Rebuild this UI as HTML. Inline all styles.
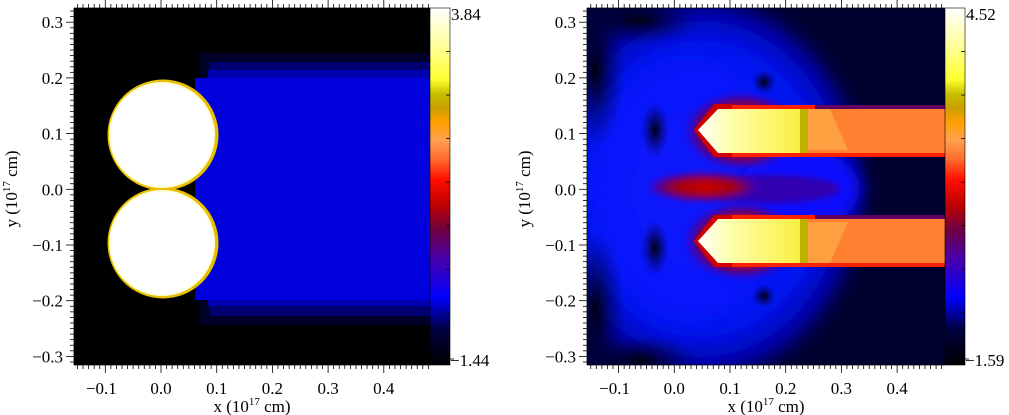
<!DOCTYPE html>
<html><head><meta charset="utf-8"><style>
html,body{margin:0;padding:0;background:#fff;}
svg{display:block;font-family:"Liberation Serif",serif;}
</style></head><body>
<svg id="s" width="1009" height="415" viewBox="0 0 1009 415" xmlns="http://www.w3.org/2000/svg">
<defs>
<linearGradient id="cb1" x1="0" y1="1" x2="0" y2="0">
<stop offset="0" stop-color="#000"/><stop offset="0.1" stop-color="#000040"/>
<stop offset="0.19" stop-color="#0000ff"/><stop offset="0.3" stop-color="#4a00a8"/>
<stop offset="0.38" stop-color="#700040"/><stop offset="0.45" stop-color="#c00000"/>
<stop offset="0.52" stop-color="#ff1000"/><stop offset="0.58" stop-color="#ff7030"/>
<stop offset="0.63" stop-color="#ffa050"/><stop offset="0.68" stop-color="#ffa000"/>
<stop offset="0.72" stop-color="#c8a000"/><stop offset="0.76" stop-color="#c8c000"/>
<stop offset="0.8" stop-color="#ffff30"/><stop offset="0.9" stop-color="#ffffa0"/>
<stop offset="1" stop-color="#fff"/>
</linearGradient>
<radialGradient id="cloud" cx="0.5" cy="0.5" r="0.5">
<stop offset="0" stop-color="#1020ff"/><stop offset="0.7" stop-color="#0014f0"/>
<stop offset="0.88" stop-color="#0000a0"/><stop offset="1" stop-color="#000020" stop-opacity="0"/>
</radialGradient>
<radialGradient id="streak" cx="0.5" cy="0.5" r="0.5">
<stop offset="0" stop-color="#d00000"/><stop offset="0.5" stop-color="#a00010"/>
<stop offset="0.8" stop-color="#5000a0"/><stop offset="1" stop-color="#3000d0" stop-opacity="0"/>
</radialGradient>
<radialGradient id="halo" cx="0.5" cy="0.5" r="0.5">
<stop offset="0.5" stop-color="#c00000"/><stop offset="0.75" stop-color="#600070"/>
<stop offset="1" stop-color="#2000e0" stop-opacity="0"/>
</radialGradient>
<radialGradient id="hole" cx="0.5" cy="0.5" r="0.5">
<stop offset="0" stop-color="#000010"/><stop offset="1" stop-color="#000060" stop-opacity="0"/>
</radialGradient>
<linearGradient id="yel" x1="0" y1="0" x2="1" y2="0">
<stop offset="0" stop-color="#ffffff"/><stop offset="0.3" stop-color="#ffffb0"/>
<stop offset="1" stop-color="#f8f040"/>
</linearGradient>
<filter id="bl" x="-30%" y="-30%" width="160%" height="160%"><feGaussianBlur stdDeviation="8"/></filter>
<filter id="bl2" x="-30%" y="-30%" width="160%" height="160%"><feGaussianBlur stdDeviation="3"/></filter>
<clipPath id="c2"><rect x="587" y="8" width="358" height="357"/></clipPath>
</defs>

<!-- LEFT PANEL -->
<rect x="74" y="8" width="356" height="357" fill="#000"/>
<rect x="200" y="53" width="230" height="272" fill="#000028"/>
<rect x="210" y="62" width="220" height="254" fill="#000070"/>
<rect x="208" y="70" width="222" height="236" fill="#0000b0"/>
<rect x="195" y="78" width="235" height="222" fill="#0000dd"/>
<circle cx="163" cy="135" r="55.5" fill="#e8c000"/>
<circle cx="163" cy="243" r="55.5" fill="#e8c000"/>
<circle cx="162" cy="135" r="53" fill="#ffffe0"/>
<circle cx="162" cy="243" r="53" fill="#ffffe0"/>
<circle cx="162" cy="135" r="51" fill="#fff"/>
<circle cx="162" cy="243" r="51" fill="#fff"/>
<rect x="430" y="8" width="20" height="357" fill="url(#cb1)" stroke="#000" stroke-width="0.6"/>

<!-- RIGHT PANEL -->
<g clip-path="url(#c2)">
<rect x="587" y="8" width="358" height="357" fill="#00002e"/>
<ellipse cx="700" cy="189" rx="175" ry="205" fill="url(#cloud)" filter="url(#bl)"/>
<ellipse cx="690" cy="189" rx="100" ry="130" fill="#0a14ff" filter="url(#bl)" opacity="0.6"/>
<ellipse cx="800" cy="189" rx="60" ry="40" fill="#0a10ff" filter="url(#bl)"/>
<ellipse cx="595" cy="70" rx="30" ry="80" fill="url(#hole)"/>
<ellipse cx="595" cy="310" rx="30" ry="80" fill="url(#hole)"/>
<ellipse cx="640" cy="20" rx="60" ry="25" fill="url(#hole)"/>
<ellipse cx="640" cy="360" rx="60" ry="25" fill="url(#hole)"/>
<ellipse cx="770" cy="189" rx="70" ry="14" fill="#3000b0" filter="url(#bl2)"/>
<ellipse cx="705" cy="187" rx="60" ry="16" fill="url(#streak)" filter="url(#bl2)"/>
<ellipse cx="742" cy="131" rx="60" ry="40" fill="url(#halo)" filter="url(#bl2)"/>
<ellipse cx="742" cy="241" rx="60" ry="40" fill="url(#halo)" filter="url(#bl2)"/>
<ellipse cx="764" cy="82" rx="12" ry="12" fill="url(#hole)"/>
<ellipse cx="764" cy="296" rx="12" ry="12" fill="url(#hole)"/>
<ellipse cx="655" cy="130" rx="14" ry="28" fill="url(#hole)"/>
<ellipse cx="655" cy="248" rx="14" ry="28" fill="url(#hole)"/>
<!-- bars upper -->
<rect x="730" y="105" width="215" height="52" fill="#ff2000"/>
<rect x="815" y="105" width="130" height="4" fill="#600060"/>
<path d="M700,130 L718,109 L945,109 L945,153 L718,153 Z" fill="#ff8030"/>
<path d="M808,109 L830,109 L848,150 L808,150 Z" fill="#ffa040"/>
<path d="M694,130 L714,104 L732,104 L732,157 L714,157 Z" fill="#d00000"/>
<path d="M698,130 L718,109 L800,109 L800,153 L718,153 Z" fill="url(#yel)"/>
<rect x="800" y="109" width="8" height="44" fill="#c0b000"/>
<!-- bars lower -->
<rect x="730" y="215" width="215" height="52" fill="#ff2000"/>
<rect x="815" y="215" width="130" height="4" fill="#600060"/>
<path d="M700,241 L718,219 L945,219 L945,263 L718,263 Z" fill="#ff8030"/>
<path d="M808,222 L848,222 L830,263 L808,263 Z" fill="#ffa040"/>
<path d="M694,241 L714,215 L732,215 L732,267 L714,267 Z" fill="#d00000"/>
<path d="M698,241 L718,219 L800,219 L800,263 L718,263 Z" fill="url(#yel)"/>
<rect x="800" y="219" width="8" height="44" fill="#c0b000"/>
</g>
<rect x="945" y="8" width="20" height="357" fill="url(#cb1)" stroke="#000" stroke-width="0.6"/>

<g id="axes" stroke="#000" stroke-width="0.8" fill="none"></g>
<g id="txt" font-size="17" fill="#000"></g>
</svg>
<script>
var ax=document.getElementById('axes'),tx=document.getElementById('txt');
function L(x1,y1,x2,y2){ax.innerHTML+='<line x1="'+x1+'" y1="'+y1+'" x2="'+x2+'" y2="'+y2+'"/>';}
function T(x,y,s,a,extra){tx.innerHTML+='<text x="'+x+'" y="'+y+'" text-anchor="'+(a||'middle')+'" '+(extra||'')+'>'+s+'</text>';}
function panel(x0,x1,zx,cbx,top,bot){
 var y0=8,y1=365,zy=189.3,k=557;
 L(x0,y0,x1,y0);L(x0,y1,x1,y1);L(x0,y0,x0,y1);
 for(var i=-15;i<=48;i++){var x=zx+k*i/100; if(x<x0-0.5||x>x1+0.5)continue; var m=(i%10==0);
  L(x,y1,x,y1+(m?8:4));L(x,y0,x,y0-(m?8:4));
  if(m){var v=(i/100).toFixed(1).replace('-','\u2212');T(x-(i<0?4:0),y1+29,v);}}
 for(var j=-31;j<=32;j++){var y=zy-k*j/100; var m=(j%10==0);
  L(x0,y,x0-(m?8:4),y);
  if(m){var v=(j/100).toFixed(1).replace('-','\u2212');T(x0-11,y+6,v,'end');}}
 T((x0+x1)/2,y1+47,'x (10<tspan font-size="11" dy="-7">17</tspan><tspan dy="7"> cm)</tspan>');
 T(0,0,'y (10<tspan font-size="11" dy="-7">17</tspan><tspan dy="7"> cm)</tspan>','middle','transform="translate('+(x0-57)+',189) rotate(-90)"');
 for(var t=1;t<=8;t++){var yy=y0+t*357/8.2; L(cbx+20,yy,cbx+16,yy);}
 T(cbx+21,20,top,'start');T(cbx+20,366,'\u2212'+bot,'start');L(cbx+20,359,cbx+24,359);
}
panel(74,430,161,430,'3.84','1.44');
panel(587,945,674.3,945,'4.52','1.59');
</script>
</body></html>
